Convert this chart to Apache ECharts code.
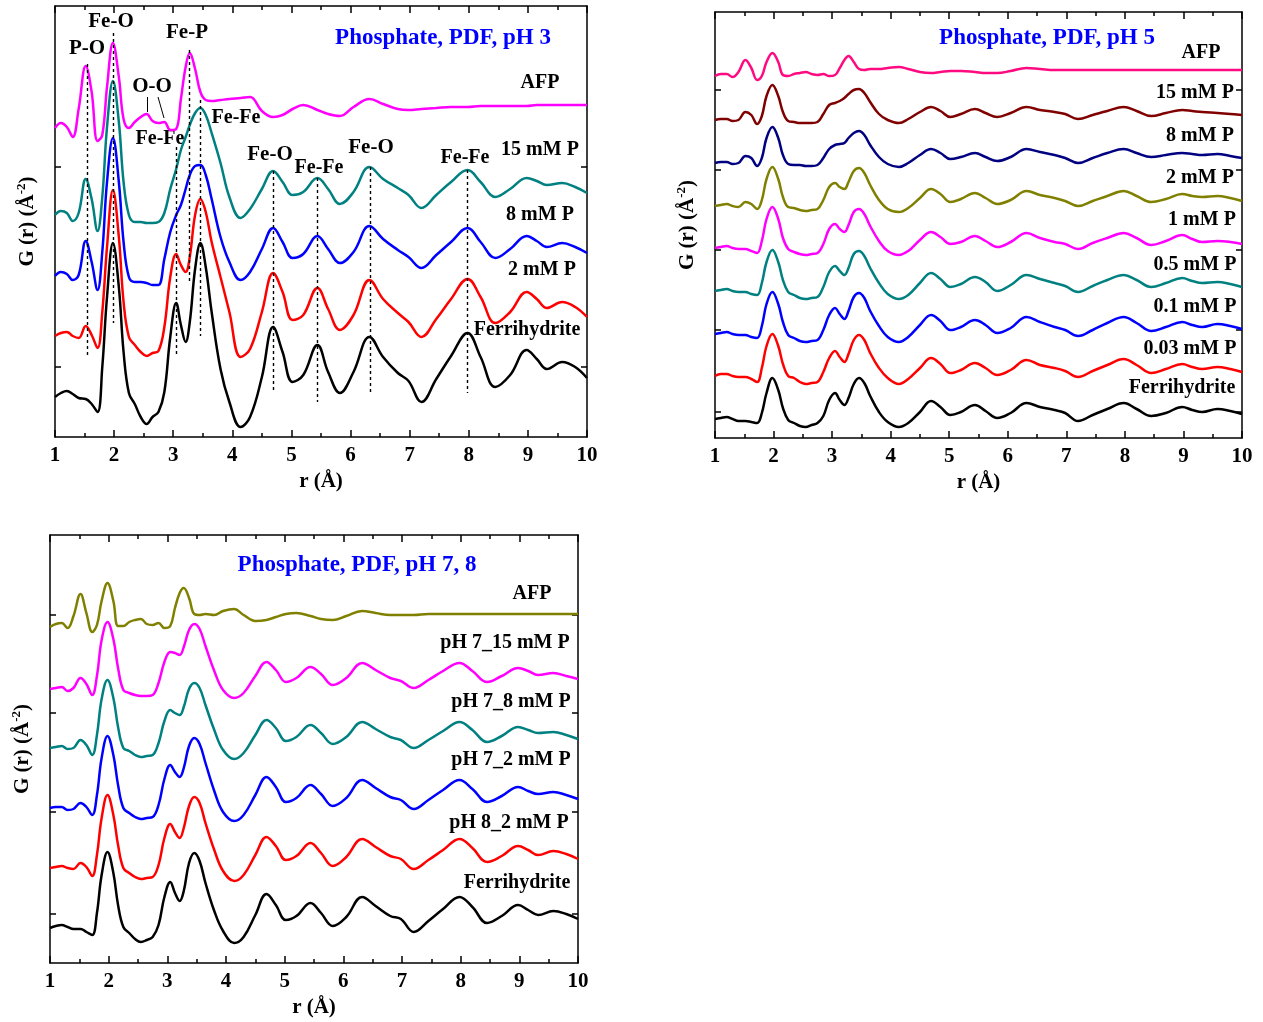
<!DOCTYPE html>
<html>
<head>
<meta charset="utf-8">
<script src="https://cdn.jsdelivr.net/npm/echarts@6/dist/echarts.min.js"></script>
<style>
  html, body { margin: 0; padding: 0; background: #fff; }
  #chart { width: 1263px; height: 1022px; }
</style>
</head>
<body>
<div id="chart"></div>
<script>
// r grid (Å) shared by every curve
const R = [1.0, 1.1, 1.2, 1.3, 1.4, 1.52, 1.62, 1.72, 1.8, 1.88,
  1.98, 2.08, 2.16, 2.25, 2.35, 2.45, 2.55, 2.65, 2.75, 2.85,
  2.95, 3.05, 3.13, 3.21, 3.28, 3.37, 3.46, 3.55, 3.65, 3.8,
  3.95, 4.14, 4.3, 4.5, 4.69, 4.85, 5.02, 5.2, 5.44, 5.62,
  5.82, 6.05, 6.32, 6.55, 6.8, 6.98, 7.2, 7.45, 7.7, 7.98,
  8.2, 8.45, 8.7, 8.98, 9.15, 9.32, 9.58, 9.8, 10.0]

// pH 3 (stacked G(r), arb. units)
const p1Ferri = [40, 44, 46, 43, 39, 38, 33, 25, 70, 140,
  194, 150, 85, 44, 33, 20, 13, 20, 25, 45,
  100, 134, 112, 95, 115, 168, 194, 170, 125, 68,
  35, 10, 20, 60, 110, 85, 55, 62, 92, 65,
  44, 65, 100, 80, 64, 56, 35, 58, 81, 104,
  80, 50, 62, 87, 78, 68, 75, 70, 59]
const p1P2 = [101, 104, 105, 101, 99, 111, 102, 89, 125, 190,
  247, 200, 135, 100, 92, 85, 81, 84, 86, 110,
  160, 183, 172, 165, 180, 222, 238, 225, 195, 160,
  125, 80, 88, 125, 164, 145, 117, 122, 149, 128,
  107, 122, 157, 138, 124, 115, 100, 118, 138, 158,
  140, 114, 125, 145, 138, 129, 135, 130, 120]
const p1P8 = [161, 165, 163, 157, 162, 196, 175, 147, 185, 255,
  299, 255, 195, 160, 155, 155, 154, 152, 152, 178,
  205, 222, 232, 248, 262, 271, 272, 262, 238, 200,
  175, 157, 165, 188, 209, 195, 179, 183, 201, 188,
  174, 185, 211, 198, 187, 180, 169, 182, 195, 209,
  195, 179, 188, 201, 196, 190, 194, 190, 184]
const p1P15 = [222, 226, 224, 216, 224, 258, 238, 206, 240, 310,
  356, 315, 255, 222, 215, 215, 214, 214, 215, 224,
  248, 268, 287, 300, 312, 324, 329, 322, 304, 274,
  240, 219, 228, 248, 266, 255, 242, 245, 259, 248,
  233, 245, 270, 258, 249, 242, 229, 242, 255, 267,
  255, 240, 248, 259, 256, 252, 254, 250, 244]
const p1AFP = [309, 314, 310, 300, 328, 371, 345, 296, 302, 350,
  394, 360, 318, 309, 315, 320, 323, 316, 314, 315,
  307, 308, 338, 370, 384, 368, 345, 337, 336, 337,
  338, 339, 340, 326, 320, 322, 328, 332, 327, 323,
  321, 330, 338, 333, 328, 327, 328, 329, 330, 330,
  331, 331, 331, 331, 332, 332, 332, 332, 332]

// pH 5
const p2Ferri = [19, 20, 21, 19, 17, 17, 16, 15, 25, 45,
  60, 48, 30, 18, 15, 12, 11, 13, 15, 22,
  38, 45, 38, 33, 40, 54, 60, 55, 42, 26,
  16, 11, 15, 26, 37, 31, 23, 26, 33, 27,
  20, 25, 35, 31, 28, 25, 17, 23, 29, 35,
  29, 22, 25, 31, 28, 26, 29, 27, 24]
const p2P003 = [62, 64, 64, 62, 61, 61, 59, 56, 70, 92,
  104, 92, 74, 62, 60, 56, 54, 55, 56, 66,
  80, 87, 81, 76, 84, 98, 103, 98, 85, 70,
  60, 54, 59, 70, 80, 74, 65, 68, 75, 70,
  63, 68, 78, 73, 70, 67, 61, 67, 73, 79,
  73, 65, 69, 74, 71, 69, 71, 69, 66]
const p2P01 = [104, 105, 106, 104, 103, 103, 101, 100, 112, 134,
  146, 134, 116, 103, 100, 97, 96, 97, 98, 108,
  123, 130, 124, 119, 127, 141, 145, 140, 127, 112,
  101, 96, 101, 113, 123, 117, 108, 111, 118, 113,
  105, 110, 121, 116, 111, 108, 102, 108, 115, 121,
  115, 107, 111, 116, 113, 111, 114, 112, 109]
const p2P05 = [147, 148, 149, 147, 146, 146, 144, 143, 155, 176,
  188, 176, 158, 146, 143, 140, 139, 140, 141, 151,
  166, 172, 167, 163, 170, 184, 187, 182, 170, 155,
  144, 139, 143, 155, 165, 159, 151, 154, 161, 156,
  147, 153, 163, 159, 155, 152, 146, 152, 158, 163,
  158, 151, 155, 160, 157, 155, 156, 154, 151]
const p2P1 = [190, 191, 192, 190, 189, 189, 187, 185, 197, 219,
  231, 219, 200, 189, 186, 184, 183, 184, 185, 194,
  209, 214, 209, 206, 213, 226, 229, 224, 212, 197,
  187, 183, 187, 198, 206, 201, 194, 196, 202, 197,
  191, 196, 205, 200, 196, 194, 189, 195, 200, 205,
  200, 193, 197, 203, 199, 196, 197, 196, 194]
const p2P2 = [232, 233, 234, 232, 231, 236, 234, 229, 238, 259,
  271, 259, 241, 231, 230, 228, 227, 228, 229, 238,
  251, 255, 251, 249, 256, 267, 270, 265, 253, 238,
  229, 226, 230, 240, 249, 244, 236, 239, 245, 240,
  234, 238, 247, 243, 240, 237, 232, 237, 242, 247,
  242, 236, 239, 244, 242, 241, 242, 240, 237]
const p2P8 = [275, 276, 276, 274, 275, 282, 280, 272, 280, 300,
  311, 300, 283, 274, 273, 273, 272, 272, 273, 280,
  289, 293, 294, 295, 300, 305, 307, 303, 293, 281,
  274, 271, 275, 283, 289, 285, 279, 281, 285, 281,
  277, 281, 289, 286, 283, 280, 275, 280, 285, 289,
  285, 281, 283, 285, 284, 283, 284, 282, 280]
const p2P15 = [318, 319, 319, 317, 318, 326, 323, 314, 322, 342,
  353, 342, 326, 317, 316, 315, 315, 315, 316, 324,
  333, 335, 337, 340, 344, 348, 349, 345, 336, 324,
  318, 315, 319, 326, 331, 327, 321, 324, 329, 325,
  321, 325, 331, 328, 326, 324, 319, 323, 327, 331,
  327, 322, 325, 328, 327, 326, 325, 324, 323]
const p2AFP = [362, 364, 364, 361, 366, 378, 370, 358, 362, 376,
  385, 376, 363, 362, 364, 365, 366, 364, 363, 364,
  362, 363, 370, 378, 382, 376, 369, 368, 369, 369,
  370, 371, 369, 366, 365, 366, 367, 367, 366, 365,
  365, 367, 370, 369, 368, 368, 368, 368, 368, 368,
  368, 368, 368, 368, 368, 368, 368, 368, 368]

// pH 7, 8
const p3Ferri = [35, 37, 38, 36, 34, 34, 31, 28, 50, 88,
  111, 90, 58, 36, 30, 24, 21, 23, 26, 38,
  66, 81, 70, 62, 72, 100, 110, 102, 80, 52,
  32, 20, 26, 48, 69, 58, 43, 47, 60, 50,
  37, 46, 66, 57, 47, 44, 31, 42, 54, 66,
  56, 40, 47, 58, 53, 48, 52, 49, 44]
const p3P82 = [95, 96, 97, 95, 94, 100, 96, 87, 108, 145,
  168, 148, 118, 95, 90, 86, 84, 85, 86, 98,
  125, 139, 131, 125, 135, 157, 166, 160, 140, 113,
  92, 82, 88, 108, 126, 117, 103, 107, 120, 110,
  97, 106, 124, 116, 107, 104, 94, 103, 113, 124,
  115, 101, 107, 117, 113, 108, 112, 109, 104]
const p3P72 = [155, 156, 156, 153, 154, 160, 156, 148, 168, 205,
  227, 208, 178, 155, 150, 146, 144, 145, 146, 158,
  184, 198, 191, 186, 195, 217, 225, 219, 200, 172,
  151, 142, 148, 168, 186, 176, 161, 165, 178, 169,
  157, 165, 183, 175, 166, 163, 154, 163, 173, 183,
  174, 161, 167, 176, 172, 169, 171, 168, 164]
const p3P78 = [215, 216, 217, 214, 215, 223, 218, 208, 228, 264,
  283, 265, 236, 215, 212, 208, 206, 207, 208, 220,
  242, 253, 250, 248, 256, 274, 280, 275, 258, 233,
  213, 204, 210, 228, 243, 235, 222, 226, 238, 230,
  219, 226, 241, 234, 226, 223, 215, 223, 232, 241,
  233, 221, 227, 236, 233, 230, 231, 228, 224]
const p3P715 = [274, 275, 276, 272, 275, 285, 279, 268, 287, 323,
  341, 324, 295, 273, 270, 268, 267, 267, 268, 280,
  301, 311, 310, 308, 316, 333, 339, 334, 317, 292,
  273, 265, 270, 287, 301, 293, 281, 285, 296, 289,
  278, 285, 300, 293, 285, 282, 275, 283, 292, 300,
  292, 281, 287, 295, 292, 288, 290, 287, 284]
const p3AFP = [336, 339, 340, 335, 347, 369, 350, 331, 338, 362,
  380, 362, 337, 337, 341, 343, 344, 339, 338, 340,
  335, 337, 355, 370, 375, 365, 349, 348, 349, 348,
  352, 354, 348, 342, 343, 346, 349, 350, 347, 344,
  343, 347, 352, 350, 348, 348, 348, 349, 349, 349,
  349, 349, 349, 349, 349, 349, 349, 349, 349]

const FONT = '"Liberation Serif", "Times New Roman", serif'
const pairs = ys => R.map((r, i) => [r, ys[i]])

const chart = echarts.init(document.getElementById('chart'), null, { renderer: 'canvas' })

const grids = [
  { left: 55, top: 6, width: 532, height: 431 },
  { left: 715, top: 12, width: 527, height: 426 },
  { left: 50, top: 535, width: 528, height: 428 }
]
const yMax = [431, 426, 428]
const yTicks = [[70, 270], [26, 108, 188, 268, 348], [49, 151, 250, 348]]

const tickStyle = { color: '#000', width: 1.5 }
const makeX = g => {
  const base = {
    gridIndex: g, type: 'value', min: 1, max: 10, interval: 1,
    splitLine: { show: false },
    axisLine: { onZero: false, lineStyle: tickStyle },
    axisTick: { inside: true, length: 7, lineStyle: tickStyle },
    minorTick: { show: true, splitNumber: 2, length: 4, lineStyle: tickStyle }
  }
  return [
    {
      ...base, position: 'bottom',
      name: 'r (Å)', nameLocation: 'middle', nameGap: 34,
      nameTextStyle: { fontFamily: FONT, fontWeight: 'bold', fontSize: 21, color: '#000' },
      axisLabel: { fontFamily: FONT, fontWeight: 'bold', fontSize: 21, color: '#000', margin: 8 }
    },
    { ...base, position: 'top', axisLabel: { show: false } }
  ]
}
const makeY = g => {
  const base = {
    gridIndex: g, type: 'value', min: 0, max: yMax[g],
    splitLine: { show: false },
    axisLine: { onZero: false, lineStyle: tickStyle },
    axisTick: { inside: true, length: 6, lineStyle: tickStyle, customValues: yTicks[g] },
    axisLabel: { show: false }
  }
  return [
    {
      ...base, position: 'left',
      name: '{b|G (r) (Å}{s|-2}{b|)}', nameLocation: 'middle', nameGap: 14,
      nameTextStyle: {
        rich: {
          b: { fontFamily: FONT, fontWeight: 'bold', fontSize: 21, color: '#000', lineHeight: 26 },
          s: { fontFamily: FONT, fontWeight: 'bold', fontSize: 13, color: '#000', verticalAlign: 'top', lineHeight: 26 }
        }
      }
    },
    { ...base, position: 'right' }
  ]
}

const line = (ax, data, color, extra) => ({
  type: 'line', xAxisIndex: ax * 2, yAxisIndex: ax * 2,
  data: pairs(data), showSymbol: false, smooth: 0.4, silent: true,
  lineStyle: { color, width: 2.5 }, ...extra
})

const guide = (r, y1, y2) => [{ coord: [r, y1] }, { coord: [r, y2] }]
const dotted = {
  silent: true, symbol: 'none', label: { show: false }, animation: false,
  lineStyle: { color: '#000', type: [3, 3], width: 1.4 },
  data: [
    guide(1.55, 373, 82), guide(1.98, 404, 114), guide(3.05, 290, 82),
    guide(3.27, 387, 154), guide(3.46, 337, 101), guide(4.69, 266, 44),
    guide(5.43, 259, 35), guide(6.33, 270, 45), guide(7.97, 267, 44)
  ]
}
const leaders = {
  silent: true, symbol: 'none', label: { show: false }, animation: false,
  lineStyle: { color: '#000', type: 'solid', width: 1 },
  data: [
    [{ coord: [2.557, 340] }, { coord: [2.557, 325] }],
    [{ coord: [2.743, 340] }, { coord: [2.844, 319] }]
  ]
}

const txt = (text, x, y, opts = {}) => ({
  type: 'text', x, y, silent: true,
  style: {
    text, fill: opts.fill || '#000', align: 'center', verticalAlign: 'middle',
    font: `bold ${opts.size || 20}px ${FONT}`
  }
})
const BLUE = '#0000ff'

const labels = [
  // pH 3
  txt('Phosphate, PDF, pH 3', 443, 38, { fill: BLUE, size: 23 }),
  txt('AFP', 540, 83), txt('15 mM P', 540, 150), txt('8 mM P', 540, 215),
  txt('2 mM P', 542, 270), txt('Ferrihydrite', 527, 330),
  txt('P-O', 87, 49, { size: 21 }), txt('Fe-O', 111, 22, { size: 21 }),
  txt('Fe-P', 187, 33, { size: 21 }), txt('O-O', 152, 87, { size: 21 }),
  txt('Fe-Fe', 160, 139), txt('Fe-Fe', 236, 118),
  txt('Fe-O', 270, 155, { size: 21 }), txt('Fe-Fe', 319, 168),
  txt('Fe-O', 371, 148, { size: 21 }), txt('Fe-Fe', 465, 158),
  // pH 5
  txt('Phosphate, PDF, pH 5', 1047, 38, { fill: BLUE, size: 23 }),
  txt('AFP', 1201, 53), txt('15 mM P', 1195, 93), txt('8 mM P', 1200, 136),
  txt('2 mM P', 1200, 178), txt('1 mM P', 1202, 220), txt('0.5 mM P', 1195, 265),
  txt('0.1 mM P', 1195, 307), txt('0.03 mM P', 1190, 349), txt('Ferrihydrite', 1182, 388),
  // pH 7, 8
  txt('Phosphate, PDF, pH 7, 8', 357, 565, { fill: BLUE, size: 23 }),
  txt('AFP', 532, 594), txt('pH 7_15 mM P', 505, 643), txt('pH 7_8 mM P', 511, 702),
  txt('pH 7_2 mM P', 511, 760), txt('pH 8_2 mM P', 509, 823), txt('Ferrihydrite', 517, 883)
]

const option = {
  backgroundColor: '#fff',
  animation: false,
  grid: grids,
  xAxis: [...makeX(0), ...makeX(1), ...makeX(2)],
  yAxis: [...makeY(0), ...makeY(1), ...makeY(2)],
  graphic: labels,
  series: [
    line(0, p1Ferri, '#000000', { markLine: dotted }),
    line(0, p1P2, '#ff0000'),
    line(0, p1P8, '#0000ff'),
    line(0, p1P15, '#008080'),
    line(0, p1AFP, '#ff00ff', { markLine: leaders }),

    line(1, p2Ferri, '#000000'),
    line(1, p2P003, '#ff0000'),
    line(1, p2P01, '#0000ff'),
    line(1, p2P05, '#008080'),
    line(1, p2P1, '#ff00ff'),
    line(1, p2P2, '#808000'),
    line(1, p2P8, '#000080'),
    line(1, p2P15, '#800000'),
    line(1, p2AFP, '#ff0a80'),

    line(2, p3Ferri, '#000000'),
    line(2, p3P82, '#ff0000'),
    line(2, p3P72, '#0000ff'),
    line(2, p3P78, '#008080'),
    line(2, p3P715, '#ff00ff'),
    line(2, p3AFP, '#808000')
  ]
}

chart.setOption(option)
</script>
</body>
</html>
